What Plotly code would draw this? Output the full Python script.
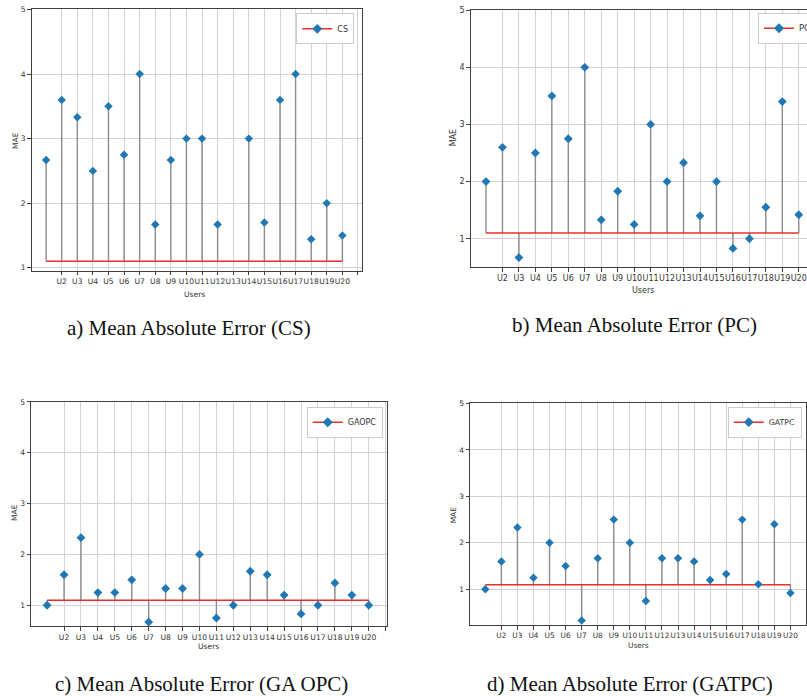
import plotly.graph_objects as go

# ---------------- data ----------------
users = ["U%d" % i for i in range(1, 21)]
tick_labels = ["U%d" % i for i in range(2, 21)] + [""]

cs = [2.67, 3.6, 3.33, 2.5, 3.5, 2.75, 4.0, 1.67, 2.67, 3.0, 3.0, 1.67, None, 3.0, 1.7, 3.6, 4.0, 1.44, 2.0, 1.5]
pc = [2.0, 2.6, 0.67, 2.5, 3.5, 2.75, 4.0, 1.33, 1.83, 1.25, 3.0, 2.0, 2.33, 1.4, 2.0, 0.83, 1.0, 1.55, 3.4, 1.42]
gaopc = [1.0, 1.6, 2.33, 1.25, 1.25, 1.5, 0.67, 1.33, 1.33, 2.0, 0.75, 1.0, 1.67, 1.6, 1.2, 0.83, 1.0, 1.44, 1.2, 1.0]
gatpc = [1.0, 1.6, 2.33, 1.25, 2.0, 1.5, 0.33, 1.67, 2.5, 2.0, 0.75, 1.67, 1.67, 1.6, 1.2, 1.33, 2.5, 1.11, 2.4, 0.92]
baseline = 1.1
y_ticks = [1, 2, 3, 4, 5]

series_names = ["CS", "PC", "GAOPC", "GATPC"]
captions = ["a) Mean Absolute Error (CS)", "b) Mean Absolute Error (PC)",
            "c) Mean Absolute Error (GA OPC)", "d) Mean Absolute Error (GATPC)"]
all_values = [cs, pc, gaopc, gatpc]

# ---------------- layout geometry (page pixels) ----------------
W, H = 807, 696
panels = [
    dict(l=31.7, r=361.7, t=9.3, b=270.7, xr=[-0.924, 20.24], yr=[0.954, 5.003],
         leg=(354.3, 13.3, "right"), mae=(15, 141), usr=(194.7, 294), cap=(189, 328), fs=7.6, ms=6.5, right_spine=True),
    dict(l=470.7, r=807, t=10, b=267, xr=[-0.93, 19.5], yr=[0.505, 5.003],
         leg=(758, 12.7, "left"), mae=(453.3, 138), usr=(642.7, 290.7), cap=(634.7, 325), fs=8.0, ms=6.8, right_spine=False),
    dict(l=31, r=386.7, t=401.7, b=626.3, xr=[-0.951, 20.06], yr=[0.587, 5.003],
         leg=(382.7, 406.7, "right"), mae=(14, 513), usr=(208.3, 646.7), cap=(201.7, 683.5), fs=7.6, ms=6.8, right_spine=True),
    dict(l=470, r=806, t=403.3, b=625, xr=[-0.953, 19.97], yr=[0.232, 5.003],
         leg=(801.7, 406.7, "right"), mae=(453.3, 515), usr=(638.3, 645.3), cap=(629.7, 683.5), fs=7.4, ms=6.5, right_spine=True),
]

def px(x):
    return x / W

def py(y):
    return 1 - y / H

BLUE = "#1f77b4"
RED = "#e8302a"
STEM = "#8c8c8c"
GRID = "#d3d3d3"
SPINE = "#404040"
TXT = "#333333"
SANS = "DejaVu Sans"
SERIF = "Liberation Serif"

fig = go.Figure()
annotations = []

for i, (name, vals, cap, p) in enumerate(zip(series_names, all_values, captions, panels)):
    k = "" if i == 0 else str(i + 1)
    xa, ya = "x" + k, "y" + k
    leg = "legend" if i == 0 else "legend" + str(i + 1)
    xs = list(range(len(users)))

    # stems
    sx, sy = [], []
    for x, v in zip(xs, vals):
        if v is None:
            continue
        sx += [x, x, None]
        sy += [baseline, v, None]
    fig.add_trace(go.Scatter(x=sx, y=sy, mode="lines", line=dict(color=STEM, width=1.4),
                             xaxis=xa, yaxis=ya, showlegend=False, hoverinfo="skip"))
    # baseline
    fig.add_trace(go.Scatter(x=[xs[0], xs[-1]], y=[baseline, baseline], mode="lines",
                             line=dict(color=RED, width=1.5), xaxis=xa, yaxis=ya, showlegend=False))
    # markers
    fig.add_trace(go.Scatter(x=xs, y=vals, mode="markers",
                             marker=dict(symbol="diamond", color=BLUE, size=p["ms"]),
                             xaxis=xa, yaxis=ya, showlegend=False, name=name))
    # legend entry (no data drawn)
    fig.add_trace(go.Scatter(x=[None], y=[None], mode="lines+markers", name=name,
                             line=dict(color=RED, width=1.5),
                             marker=dict(symbol="diamond", color=BLUE, size=p["ms"] + 1),
                             xaxis=xa, yaxis=ya, legend=leg, showlegend=True))

    xdom = [max(px(p["l"]), 0), min(px(p["r"]), 1.0)]
    ydom = [max(py(p["b"]), 0), min(py(p["t"]), 1.0)]
    axis_common = dict(showline=True, linecolor=SPINE, linewidth=1, ticks="outside",
                       ticklen=3.5, tickcolor=SPINE, tickwidth=1, showgrid=True,
                       gridcolor=GRID, gridwidth=1, zeroline=False, ticklabeloverflow="allow",
                       tickfont=dict(family=SANS, size=p["fs"], color=TXT))
    fig.layout["xaxis" + k] = dict(axis_common, domain=xdom, range=p["xr"], anchor=ya,
                                   tickmode="array", tickvals=list(range(1, 21)),
                                   ticktext=tick_labels, mirror=True, tickangle=0)
    fig.layout["yaxis" + k] = dict(axis_common, domain=ydom, range=p["yr"], anchor=xa,
                                   tickmode="array", tickvals=y_ticks,
                                   ticktext=[str(t) for t in y_ticks],
                                   mirror=p["right_spine"])
    fig.layout[leg] = dict(x=px(p["leg"][0]), y=py(p["leg"][1]), xanchor=p["leg"][2], yanchor="top",
                           bgcolor="white", bordercolor="#cccccc", borderwidth=1,
                           font=dict(family=SANS, size=p["fs"] + 0.4, color=TXT),
                           tracegroupgap=0, itemwidth=30)

    annotations.append(dict(x=px(p["mae"][0]), y=py(p["mae"][1]), xref="paper", yref="paper",
                            xanchor="center", yanchor="middle",
                            text="MAE", showarrow=False, textangle=-90,
                            font=dict(family=SANS, size=p["fs"], color=TXT)))
    annotations.append(dict(x=px(p["usr"][0]), y=py(p["usr"][1]), xref="paper", yref="paper",
                            xanchor="center", yanchor="middle",
                            text="Users", showarrow=False,
                            font=dict(family=SANS, size=p["fs"], color=TXT)))
    annotations.append(dict(x=px(p["cap"][0]), y=py(p["cap"][1]), xref="paper", yref="paper",
                            xanchor="center", yanchor="middle",
                            text=cap, showarrow=False,
                            font=dict(family=SERIF, size=21, color="#111111")))

fig.update_layout(width=W, height=H, margin=dict(l=0, r=0, t=0, b=0, autoexpand=False),
                  paper_bgcolor="white", plot_bgcolor="white", annotations=annotations)

fig.write_html("out.html", config={"displayModeBar": False},
               post_script="document.body.style.margin='0';document.body.style.overflow='hidden';")
